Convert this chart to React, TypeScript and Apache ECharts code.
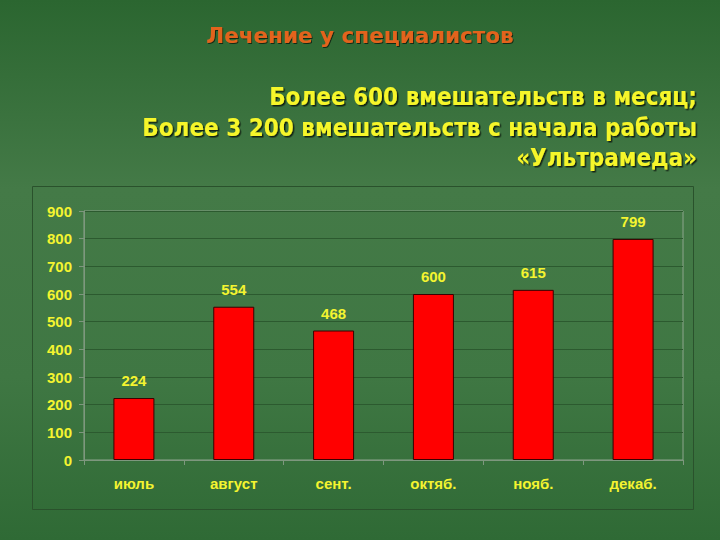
import React, { useEffect, useRef } from "react";
import * as echarts from "echarts";

const categories = ["июль", "август", "сент.", "октяб.", "нояб.", "декаб."];
const values = [224, 554, 468, 600, 615, 799];
const titleText = "Лечение у специалистов";
const subtitleLines = [
  "Более 600 вмешательств в месяц;",
  "Более 3 200 вмешательств с начала работы",
  "«Ультрамеда»",
];

export default function App() {
  const ref = useRef<HTMLDivElement>(null);
  useEffect(() => {
    if (!ref.current) return;
    const chart = echarts.init(ref.current, undefined, { renderer: "svg" });
    const narrow = "'DejaVu Sans Condensed', 'DejaVu Sans', sans-serif";
    const wide = "'DejaVu Sans', sans-serif";
    const arial = "'Liberation Sans', Arial, sans-serif";
    const yellow = "#f4f430";
    chart.setOption({
      animation: false,
      backgroundColor: {
        type: "linear",
        x: 0, y: 0, x2: 0, y2: 1,
        colorStops: [
          { offset: 0, color: "#2b6630" },
          { offset: 0.35, color: "#447a47" },
          { offset: 0.7, color: "#3f7743" },
          { offset: 1, color: "#2f6a35" },
        ],
      },
      graphic: [
        {
          type: "rect",
          shape: { x: 32.5, y: 186.5, width: 661, height: 323 },
          style: { fill: "transparent", stroke: "#2a522c", lineWidth: 1 },
          silent: true,
        },
        {
          type: "text",
          x: 360,
          y: 35,
          style: {
            text: titleText,
            fill: "#e3641e",
            font: `bold 21.5px ${wide}`,
            align: "center",
            verticalAlign: "middle",
            textShadowColor: "rgba(0,0,0,0.6)",
            textShadowOffsetX: 1,
            textShadowOffsetY: 1,
            textShadowBlur: 1,
          },
        },
        ...subtitleLines.map((t, i) => ({
          type: "text",
          x: 697,
          y: 97 + i * 30.5,
          style: {
            text: t,
            fill: "#f6f629",
            font: `bold 24px ${narrow}`,
            align: "right",
            verticalAlign: "middle",
            textShadowColor: "rgba(0,0,0,0.7)",
            textShadowOffsetX: 1.5,
            textShadowOffsetY: 1.5,
            textShadowBlur: 1,
          },
        })),
      ],
      grid: {
        left: 84,
        top: 211,
        right: 37,
        bottom: 80,
        show: true,
        borderColor: "#8da58d",
        borderWidth: 1,
        backgroundColor: "transparent",
      },
      xAxis: {
        type: "category",
        data: categories,
        axisLine: { show: true, lineStyle: { color: "#7e977e", width: 1 } },
        axisTick: { show: true, alignWithLabel: false, length: 5, lineStyle: { color: "#7e977e" } },
        axisLabel: {
          color: yellow,
          fontFamily: arial,
          fontWeight: "bold",
          fontSize: 15,
          margin: 16,
        },
      },
      yAxis: {
        type: "value",
        min: 0,
        max: 900,
        interval: 100,
        axisLine: { show: true, lineStyle: { color: "#7e977e", width: 1 } },
        axisTick: { show: true, length: 5, lineStyle: { color: "#7e977e" } },
        axisLabel: {
          color: yellow,
          fontFamily: arial,
          fontWeight: "bold",
          fontSize: 15,
          margin: 12,
        },
        splitLine: { show: true, lineStyle: { color: "#2c5a2f", width: 1 } },
      },
      series: [
        {
          type: "bar",
          data: values,
          barWidth: 41,
          itemStyle: { color: "#ff0000", borderColor: "#3a0000", borderWidth: 1 },
          label: {
            show: true,
            position: "top",
            distance: 10,
            color: yellow,
            fontFamily: arial,
            fontWeight: "bold",
            fontSize: 15,
          },
        },
      ],
    });
    return () => chart.dispose();
  }, []);
  return (
    <div
      ref={ref}
      style={{ position: "absolute", left: 0, top: 0, width: 720, height: 540 }}
    />
  );
}
